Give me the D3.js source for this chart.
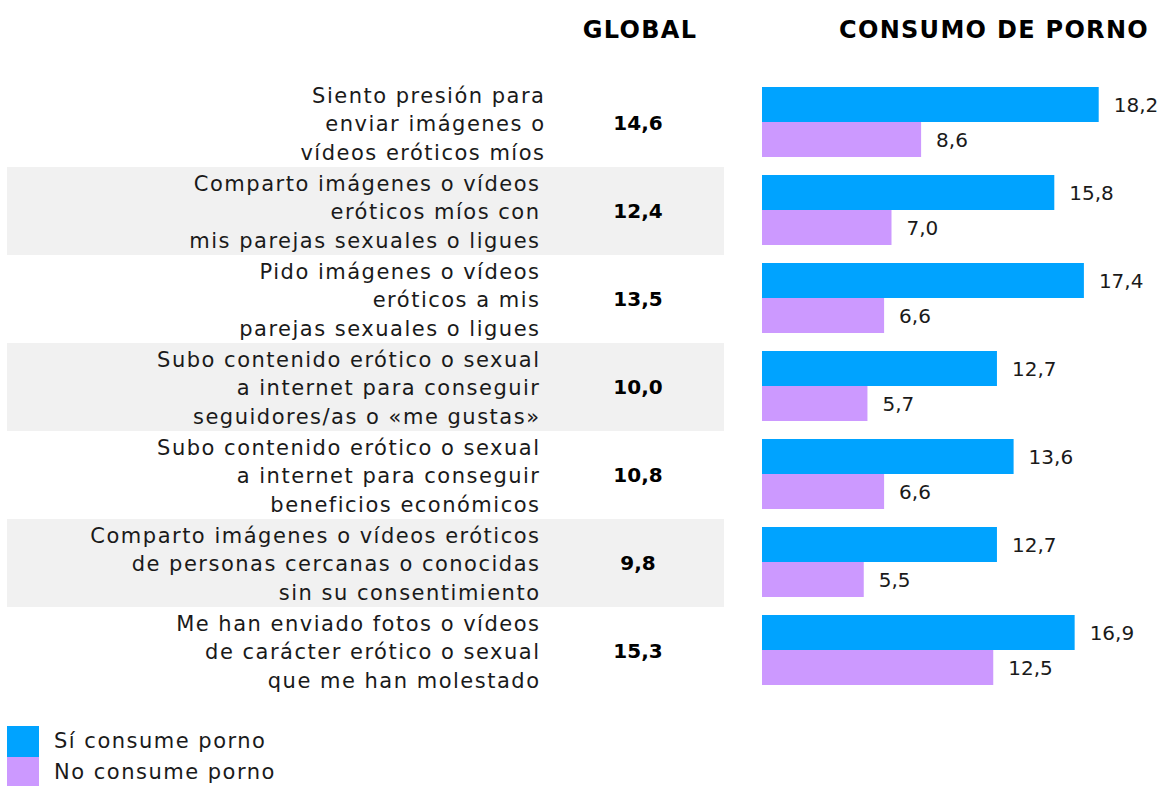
<!DOCTYPE html>
<html>
<head>
<meta charset="utf-8">
<script src="https://cdn.jsdelivr.net/npm/d3@7"></script>
<style>
  html, body { margin: 0; padding: 0; background: #ffffff; }
  svg { display: block; }
  text { font-family: "DejaVu Sans", "Open Sans", sans-serif; fill: #1a1a1a; }
</style>
</head>
<body>
<svg id="chart" width="1160" height="786"></svg>
<script>
// Statements (each split into display lines)
const statements = [
  ["Siento presión para", "enviar imágenes o", "vídeos eróticos míos"],
  ["Comparto imágenes o vídeos", "eróticos míos con", "mis parejas sexuales o ligues"],
  ["Pido imágenes o vídeos", "eróticos a mis", "parejas sexuales o ligues"],
  ["Subo contenido erótico o sexual", "a internet para conseguir", "seguidores/as o «me gustas»"],
  ["Subo contenido erótico o sexual", "a internet para conseguir", "beneficios económicos"],
  ["Comparto imágenes o vídeos eróticos", "de personas cercanas o conocidas", "sin su consentimiento"],
  ["Me han enviado fotos o vídeos", "de carácter erótico o sexual", "que me han molestado"]
];
const globalValues = [14.6, 12.4, 13.5, 10.0, 10.8, 9.8, 15.3];
const siConsume   = [18.2, 15.8, 17.4, 12.7, 13.6, 12.7, 16.9];
const noConsume   = [8.6, 7.0, 6.6, 5.7, 6.6, 5.5, 12.5];
const seriesNames = ["Sí consume porno", "No consume porno"];
const seriesColors = ["#00a3ff", "#cc99ff"];
const headers = ["GLOBAL", "CONSUMO DE PORNO"];

const fmt = v => d3.format(".1f")(v).replace(".", ",");

const svg = d3.select("#chart");

const rowIdx = d3.range(statements.length);
const y = d3.scaleBand().domain(rowIdx).range([79, 695]).padding(0);
const x = d3.scaleLinear().domain([0, 1]).range([762, 762 + 18.5]);
const sub = d3.scaleBand().domain([0, 1]).range([0, 70]);

const bodySize = 21, bodySpacing = 1.5;

// Alternating background bands
svg.append("g").selectAll("rect")
  .data(rowIdx.filter(i => i % 2 === 1))
  .join("rect")
  .attr("x", 7).attr("width", 717)
  .attr("y", i => y(i)).attr("height", y.bandwidth())
  .attr("fill", "#f1f1f1");

// Column headers
const headerX = [640, 994];
headers.forEach((h, k) => {
  svg.append("text").attr("x", headerX[k]).attr("y", 38)
    .attr("text-anchor", "middle").attr("font-weight", "bold").attr("font-size", 24)
    .attr("letter-spacing", 1.3)
    .style("fill", "#000").text(h);
});

// Statement labels
const labelX = i => (i === 0 ? 544 : 539) + bodySpacing;
const labels = svg.append("g").selectAll("text")
  .data(rowIdx).join("text")
  .attr("text-anchor", "end")
  .attr("font-size", bodySize)
  .attr("letter-spacing", bodySpacing);
labels.selectAll("tspan")
  .data(i => statements[i].map((t, k) => ({ t, k, i })))
  .join("tspan")
  .attr("x", d => labelX(d.i))
  .attr("y", d => y(d.i) + y.bandwidth() / 2 + (d.k - 1) * 28.5 + 1)
  .attr("dominant-baseline", "central")
  .text(d => d.t);

// Global values
svg.append("g").selectAll("text")
  .data(rowIdx).join("text")
  .attr("x", 638)
  .attr("y", i => y(i) + y.bandwidth() / 2)
  .attr("text-anchor", "middle").attr("dominant-baseline", "central")
  .attr("font-weight", "bold").attr("font-size", 20)
  .style("fill", "#000")
  .text(i => fmt(globalValues[i]));

// Bars by group
const series = [siConsume, noConsume];
const barG = svg.append("g");
series.forEach((vals, s) => {
  barG.append("g").selectAll("rect")
    .data(rowIdx).join("rect")
    .attr("x", x(0))
    .attr("y", i => y(i) + 8 + sub(s))
    .attr("width", i => x(vals[i]) - x(0))
    .attr("height", sub.bandwidth())
    .attr("fill", seriesColors[s]);
  barG.append("g").selectAll("text")
    .data(rowIdx).join("text")
    .attr("x", i => x(vals[i]) + 15)
    .attr("y", i => y(i) + 8 + sub(s) + sub.bandwidth() / 2)
    .attr("dominant-baseline", "central")
    .attr("font-size", 20)
    .text(i => fmt(vals[i]));
});

// Legend
const legend = svg.append("g");
seriesNames.forEach((name, s) => {
  legend.append("rect").attr("x", 7).attr("y", 726 + s * 31)
    .attr("width", 32).attr("height", 31).attr("fill", seriesColors[s]);
  legend.append("text").attr("x", 54).attr("y", 741 + s * 31)
    .attr("dominant-baseline", "central").attr("font-size", bodySize)
    .attr("letter-spacing", bodySpacing)
    .text(name);
});
</script>
</body>
</html>
